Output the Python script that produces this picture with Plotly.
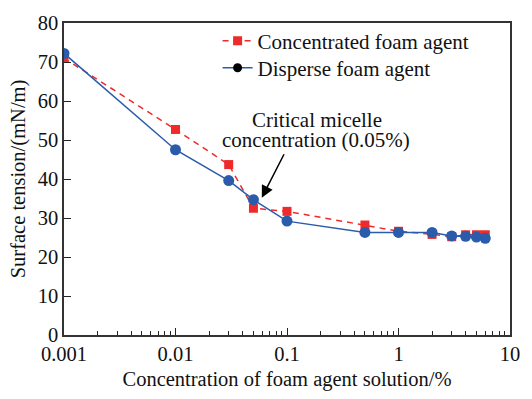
import plotly.graph_objects as go

conc = [0.001, 0.01, 0.03, 0.05, 0.1, 0.5, 1, 2, 3, 4, 5, 6]
concentrated = [71.0, 52.7, 43.7, 32.5, 31.7, 28.2, 26.6, 25.8, 25.2, 25.7, 25.7, 25.7]
disperse = [72.2, 47.5, 39.6, 34.7, 29.2, 26.3, 26.3, 26.3, 25.4, 25.3, 25.1, 24.8]

x_tickvals = [0.001, 0.01, 0.1, 1, 10]
x_ticktext = ["0.001", "0.01", "0.1", "1", "10"]
y_tickvals = [0, 10, 20, 30, 40, 50, 60, 70, 80]

RED = "#ee2a2a"
BLUE = "#2a5cab"
FONT = "Times New Roman"
TXT = "#111111"

L, R, T, B = 64, 15, 19, 62
W, H = 532, 399
pw = W - L - R
ph = H - T - B


def px_to_paper(xp, yp):
    return (xp - L) / pw, (H - B - yp) / ph


fig = go.Figure()
fig.add_trace(go.Scatter(
    x=conc, y=concentrated, mode="lines+markers", name="Concentrated foam agent",
    line=dict(color=RED, width=1.5, dash="6px,5px"),
    marker=dict(symbol="square", size=9, color=RED),
    legend="legend",
))
fig.add_trace(go.Scatter(
    x=conc, y=disperse, mode="lines+markers", name="Disperse foam agent",
    line=dict(color=BLUE, width=1.5),
    marker=dict(symbol="circle", size=11, color=BLUE),
    showlegend=False,
))
# legend entry (black marker on blue line, as in the reference legend)
fig.add_trace(go.Scatter(
    x=[None], y=[None], mode="lines+markers", name="Disperse foam agent",
    line=dict(color=BLUE, width=1.5),
    marker=dict(symbol="circle", size=9, color="black"),
    legend="legend2",
))

fig.add_annotation(x=-1.226, y=35.2, xref="x", yref="y", ax=23, ay=-45,
                   axref="pixel", ayref="pixel", text="", showarrow=True,
                   arrowhead=2, arrowsize=1.6, arrowwidth=1.5, arrowcolor="black", standoff=0)
for txt, xp, yp in [("Critical micelle", 321, 117.5), ("concentration (0.05%)", 320, 138.5)]:
    xx, yy = px_to_paper(xp, yp)
    fig.add_annotation(x=xx, y=yy, xref="paper", yref="paper", text=txt,
                       xanchor="center", yanchor="middle", showarrow=False,
                       font=dict(family=FONT, size=21, color=TXT))

lx, ly1 = px_to_paper(220, 37.5)
_, ly2 = px_to_paper(220, 65)
leg_common = dict(xanchor="left", yanchor="middle", bgcolor="rgba(0,0,0,0)",
                  font=dict(family=FONT, size=21, color=TXT), itemwidth=30)

fig.update_layout(
    width=W, height=H,
    margin=dict(l=L, r=R, t=T, b=B),
    paper_bgcolor="white", plot_bgcolor="white",
    showlegend=True,
    legend=dict(x=lx, y=ly1, **leg_common),
    legend2=dict(x=lx, y=ly2, **leg_common),
    xaxis=dict(
        type="log", range=[-3, 1], tickvals=x_tickvals, ticktext=x_ticktext,
        ticks="inside", ticklen=7, tickwidth=1.2, tickcolor="#222",
        minor=dict(ticks="inside", ticklen=4, tickwidth=1, tickcolor="#222", dtick="D1", showgrid=False),
        showgrid=False, zeroline=False,
        showline=True, linecolor="#333", linewidth=1.5, mirror=True,
        title=dict(text="Concentration of foam agent solution/%", font=dict(family=FONT, size=20.5, color=TXT), standoff=7),
        tickfont=dict(family=FONT, size=20.5, color=TXT),
    ),
    yaxis=dict(
        range=[0, 80], tickvals=y_tickvals,
        ticks="inside", ticklen=7, tickwidth=1.2, tickcolor="#222",
        showgrid=False, zeroline=False,
        showline=True, linecolor="#333", linewidth=1.5, mirror=True,
        title=dict(text="Surface tension/(mN/m)", font=dict(family=FONT, size=20.5, color=TXT), standoff=6),
        tickfont=dict(family=FONT, size=20.5, color=TXT),
    ),
)

fig.write_html("out.html")
